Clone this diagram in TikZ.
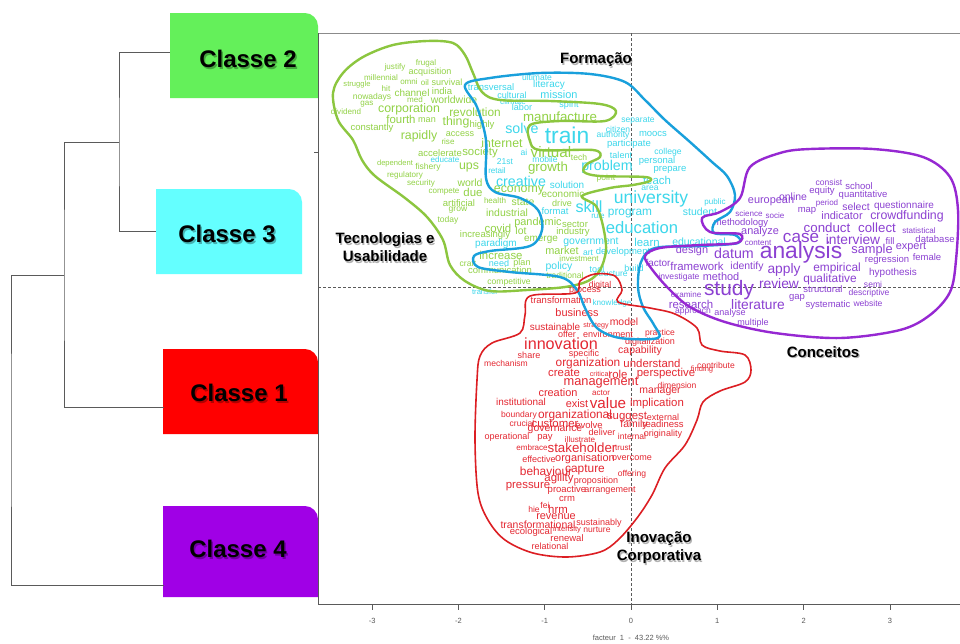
\documentclass[tikz,border=0pt]{standalone}
\usepackage{fontspec}
\setmainfont{Liberation Sans}
\pgfdeclarelayer{bg}
\pgfsetlayers{bg,main}
% word colours
\definecolor{wgreen}{RGB}{146,210,70}
\definecolor{wcyan}{RGB}{60,215,235}
\definecolor{wred}{RGB}{228,40,50}
\definecolor{wpurple}{RGB}{140,65,210}
% contour colours
\definecolor{cgreen}{RGB}{140,198,63}
\definecolor{ccyan}{RGB}{25,160,220}
\definecolor{cpurple}{RGB}{150,40,210}
\definecolor{cred}{RGB}{220,30,35}
% class box colours
\definecolor{bgreen}{RGB}{100,240,90}
\definecolor{bcyan}{RGB}{100,255,255}
\definecolor{bred}{RGB}{255,0,0}
\definecolor{bpurple}{RGB}{160,0,230}
\definecolor{axisgray}{RGB}{90,90,90}
\begin{document}
\begin{tikzpicture}[x=1pt,y=-1pt,
  word/.style={inner sep=0pt,outer sep=0pt},
  clbox/.style={inner sep=0pt,outer sep=0pt,draw=none},
  cltext/.style={inner sep=0pt,font=\fontsize{24}{24}\selectfont\bfseries},
  clshadow/.style={cltext,text=black,opacity=0.3},
  tree/.style={draw=axisgray,line width=0.9pt},
  contour/.style={line width=2.4pt,line join=round},
  guide/.style={draw=axisgray,line width=0.8pt,dash pattern=on 3pt off 2pt},
  theme/.style={inner sep=0pt,align=center,font=\fontsize{15}{18}\selectfont\bfseries},
  themeshadow/.style={theme,text=black,opacity=0.3},
  ticklab/.style={inner sep=0pt,font=\fontsize{7.5}{8}\selectfont,text=axisgray}]
\useasboundingbox (0,0) rectangle (960,643);
\begin{pgfonlayer}{bg}
  \fill[white] (0,0) rectangle (960,643);
\end{pgfonlayer}

% ---- class boxes (rectangles with a rounded top-right corner) ----
\node[clbox,minimum width=148pt,minimum height=85pt] (b2) at (244,55.5) {};
\node[clbox,minimum width=146pt,minimum height=85pt] (b3) at (229,231.5) {};
\node[clbox,minimum width=155pt,minimum height=85pt] (b1) at (240.5,391.5) {};
\node[clbox,minimum width=155pt,minimum height=91pt] (b4) at (240.5,551.5) {};
\begin{pgfonlayer}{bg}
  \foreach \b/\c in {b2/bgreen,b3/bcyan,b1/bred,b4/bpurple}{
    \fill[\c] (\b.south west) -- (\b.north west) -- ([xshift=-13pt]\b.north east)
      .. controls ([xshift=-6pt]\b.north east) and ([yshift=-6pt]\b.north east)
      .. ([yshift=-13pt]\b.north east) -- (\b.south east) -- cycle;
  }
\end{pgfonlayer}
\node[clshadow] (s2) at (249.5,60.5) {Classe 2};
\node[cltext] (t2) at (248,59) {Classe 2};
\node[clshadow] (s3) at (228.5,235.5) {Classe 3};
\node[cltext] (t3) at (227,234) {Classe 3};
\node[clshadow] (s1) at (240.5,394.5) {Classe 1};
\node[cltext] (t1) at (239,393) {Classe 1};
\node[clshadow] (s4) at (239.5,550.5) {Classe 4};
\node[cltext] (t4) at (238,549) {Classe 4};

% ---- dendrogram ----
\coordinate (e2) at (170,52.5);
\coordinate (e3) at (156,231.5);
\coordinate (e1) at (164,407);
\coordinate (e4) at (164,585);
\coordinate (j23) at (119,142);
\coordinate (j123) at (64,275.5);
\coordinate (root) at (11,430);
\draw[tree] (e2) -| (j23) |- (e3);
\draw[tree] (j23) -| (j123) |- (e1);
\draw[tree] (j123) -| (root) |- (e4);
\draw[tree] (j23) -- (j123 |- j23);

% ---- plot frame and guides ----
\coordinate (ftl) at (318,33);
\coordinate (fbl) at (318,604);
\coordinate (ftr) at (960,33);
\coordinate (fbr) at (960,604);
\draw[draw=axisgray!70,line width=1pt] (ftr) -- (ftl);
\draw[draw=axisgray,line width=1pt] (ftl) -- (fbl) -- (fbr);
\draw[draw=axisgray,line width=0.8pt] (318,152) -- (314,152);
\coordinate (hl) at (318,287);
\coordinate (hr) at (960,287);
\coordinate (vt) at (631,33);
\coordinate (vb) at (631,604);
\draw[guide] (hl) -- (hr);
\draw[guide] (vt) -- (vb);
\foreach \k/\lab [count=\i] in {-3/-3,-2/-2,-1/-1,0/0,1/1,2/2,3/3}{
  \draw[draw=axisgray,line width=0.8pt] (631+86.3*\k,604) -- (631+86.3*\k,610);
  \node[ticklab] (tk\i) at (631+86.3*\k,621) {\lab};
}
\node[ticklab] (xtitle) at (631,638) {facteur \ 1 \ - \ 43.22 \%\%};

% ---- class 2 words ----
\foreach \x/\y/\s/\t [count=\i, evaluate=\s as \fs using 0.95*\s] in {
395/67/8.5/justify, 426/63/8.5/frugal, 430/72/9.5/acquisition, 381/78/8.5/millennial,
409/82/8.5/omni, 425/83/8.5/oil, 447/82/9.5/survival, 357/85/8/struggle, 386/89/8.5/hit,
412/93/10.5/channel, 442/91/10/india, 372/97/9/nowadays, 415/100/8.5/med,
454/100/11/worldwide, 367/104/8.5/gas, 346/112/8.5/dividend, 409/109/13/corporation,
475/112/12.5/revolution, 401/119/12/fourth, 427/120/9.5/man, 456/122/13/thing,
482/125/10/highly, 372/128/10/constantly, 419/136/13/rapidly, 460/134/9.5/access,
448/142/8.5/rise, 502/143/13/internet, 440/153/10/accelerate, 480/153/12/society,
395/164/8/dependent, 428/167/9/fishery, 469/167/13/ups, 405/175/8.5/regulatory,
421/183/8.5/security, 470/183/11/world, 444/192/8.5/compete, 473/192/12/due,
459/203/10/artificial, 458/210/9/grow, 448/220/9/today, 560/117/14/manufacture,
551/152/16/virtual, 579/157/9/tech, 548/168/14/growth, 606/178/9/point,
519/190/13/economy, 563/194/10.5/economic, 495/201/8.5/health, 523/202/11/state,
562/203/9.5/drive, 507/213/11/industrial, 538/223/11.5/pandemic, 575/224/10/sector,
498/228/12/covid, 521/231/11/lot, 573/232/10/industry, 485/235/10/increasingly,
541/240/10.5/emerge, 501/255/12/increase, 562/251/11.5/market, 579/259/8.5/investment,
468/263/9/craft, 522/263/9.5/plan, 500/270/10/communication, 565/275/9/traditional,
509/282/9/competitive}
  \node[word,text=wgreen,font=\fontsize{\fs}{\fs}\selectfont] (g\i) at (\x,\y) {\t};

% ---- class 3 words ----
\foreach \x/\y/\s/\t [count=\i, evaluate=\s as \fs using 0.95*\s] in {
537/77/9/ultimate, 491/87/10/transversal, 549/85/10.5/literacy, 512/95/9.5/cultural,
559/95/11.5/mission, 513/102/8.5/climate, 522/107/9.5/labor, 569/105/9.5/spirit,
522/128/15/solve, 567/135/24/train, 638/121/9/separate, 618/129/9/citizen,
613/135/9/authority, 653/134/10/moocs, 629/144/10/participate, 621/155/9.5/talent,
668/152/9/college, 657/161/10/personal, 670/170/10/prepare, 657/180/12/teach,
445/160/8.5/educate, 524/152/9/ai, 545/159/9/mobile, 505/162/9/21st, 497/171/8.5/retail,
607/167/15/problem, 521/181/15/creative, 567/185/10.5/solution, 650/188/9/area,
651/199/18.5/university, 589/207/17/skill, 630/214/12.5/program, 598/216/8.5/rule,
642/228/17.5/education, 700/212/11/student, 715/202/8.5/public, 555/211/10/format,
496/244/10.5/paradigm, 591/242/11/government, 647/242/12/learn, 699/242/11/educational,
588/253/9/art, 623/252/10/development, 499/263/9.5/need, 559/267/11/policy,
597/269/9.5/tool, 634/268/9.5/build, 611/274/9/structure, 485/292/8/transfer,
612/303/8.5/knowledge}
  \node[word,text=wcyan,font=\fontsize{\fs}{\fs}\selectfont] (c\i) at (\x,\y) {\t};

% ---- class 1 words ----
\foreach \x/\y/\s/\t [count=\i, evaluate=\s as \fs using 0.95*\s] in {
600/285/9/digital, 585/291/9.5/process, 561/300/10/transformation, 577/313/11.5/business,
624/322/11/model, 555/327/10.5/sustainable, 596/326/7.5/strategy, 567/334/9.5/offer,
608/334/9.5/environment, 561/344/17/innovation, 660/333/9/practice,
650/342/9.5/digitalization, 529/355/9.5/share, 584/354/9.5/specific, 640/351/11/capability,
506/363/9/mechanism, 588/363/12.5/organization, 652/363/12/understand,
716/365/9/contribute, 702/370/8/finding, 564/373/12/create, 600/374/7.5/critical,
618/374/12/role, 666/374/12/perspective, 601/383/13.5/management, 677/385/9/dimension,
660/392/11/manager, 558/393/11.5/creation, 601/393/8.5/actor, 521/402/10.5/institutional,
577/404/11.5/exist, 608/403/16/value, 657/404/12/implication, 519/415/9/boundary,
575/415/12.5/organizational, 627/417/12/suggest, 663/417/9.5/external, 522/423/9/crucial,
555/424/12/customer, 589/425/10/evolve, 634/425/11/family, 663/424/10/readiness,
555/430/11/governance, 602/432/9.5/deliver, 507/437/9.5/operational, 545/438/10/pay,
580/440/8.5/illustrate, 632/436/9/internal, 663/434/9.5/originality, 532/448/8.5/embrace,
582/448/14/stakeholder, 623/448/8.5/trust, 539/459/9.5/effective, 585/459/11.5/organisation,
632/458/9.5/overcome, 546/471/12.5/behaviour, 585/470/12.5/capture, 632/474/9/offering,
559/479/12/agility, 596/481/9.5/proposition, 528/487/12/pressure, 567/490/10/proactive,
610/491/9.5/arrangement, 567/499/10/crm, 545/505/9/fei, 534/509/9/hie, 558/509/12/hrm,
556/517/11.5/revenue, 538/525/11/transformational, 599/523/9.5/sustainably,
531/532/10/ecological, 567/530/8/intensity, 597/530/9/nurture, 567/538/10/renewal,
550/546/9.5/relational}
  \node[word,text=wred,font=\fontsize{\fs}{\fs}\selectfont] (r\i) at (\x,\y) {\t};

% ---- class 4 words ----
\foreach \x/\y/\s/\t [count=\i, evaluate=\s as \fs using 0.95*\s] in {
829/182/9/consist, 859/186/10/school, 822/191/10/equity, 863/195/10/quantitative,
793/197/11/online, 771/202/11.5/european, 827/203/8.5/period, 856/207/11/select,
904/206/10.5/questionnaire, 807/211/10/map, 749/214/8.5/science, 775/216/8.5/socie,
842/216/11.5/indicator, 907/216/13/crowdfunding, 741/223/10/methodology,
827/228/14/conduct, 877/228/14/collect, 760/232/11.5/analyze, 919/231/8.5/statistical,
801/238/18/case, 853/240/14.5/interview, 890/241/10/fill, 935/239/10/database,
758/243/8.5/content, 911/247/11.5/expert, 872/250/13.5/sample, 692/251/11.5/design,
734/253/15/datum, 801/253/24/analysis, 927/257/10/female, 887/260/10/regression,
658/263/10.5/factor, 697/266/12/framework, 747/267/11/identify, 784/270/14.5/apply,
837/268/12.5/empirical, 893/273/10.5/hypothesis, 679/277/9/investigate,
721/277/11.5/method, 830/279/12.5/qualitative, 779/284/14.5/review, 873/284/9/semi,
729/290/22/study, 823/289/10/structural, 869/293/9/descriptive, 686/295/8.5/examine,
797/298/10/gap, 691/304/12/research, 758/305/14.5/literature, 828/305/10/systematic,
868/303/9/website, 693/311/9/approach, 730/313/9.5/analyse, 753/323/9.5/multiple}
  \node[word,text=wpurple,font=\fontsize{\fs}{\fs}\selectfont] (p\i) at (\x,\y) {\t};

% ---- class contours ----
\draw[contour,cgreen] plot[smooth cycle,tension=0.55] coordinates {
(353,140) (338,120) (333,93) (343,73) (363,57) (393,45) (427,41) (453,43) (465,55)
(473,73) (482,92) (500,100) (550,101) (600,104) (616,111) (605,121) (560,121)
(530,125) (530,141) (540,150) (593,150) (600,157) (587,164) (584,172) (600,176)
(645,177) (650,181) (633,185) (610,188) (582,196) (596,206) (603,226) (606,250)
(600,270) (588,281) (565,287) (527,290) (490,291) (465,281) (450,265) (443,240)
(427,217) (405,198) (375,176) (362,160)};
\draw[contour,ccyan] plot[smooth cycle,tension=0.55] coordinates {
(465,85) (490,78) (540,73) (590,74) (625,82) (645,100) (665,120) (690,142) (712,162)
(727,176) (735,195) (730,212) (715,222) (714,233) (735,235) (738,243) (700,246)
(655,248) (641,262) (638,287) (643,307) (654,325) (658,338) (620,338) (597,328)
(585,308) (577,290) (560,277) (510,272) (478,267) (474,256) (490,251) (530,246)
(542,230) (538,210) (520,198) (495,192) (486,178) (486,140) (477,107)};
\draw[contour,cpurple] plot[smooth cycle,tension=0.55] coordinates {
(750,167) (780,153) (810,149) (873,149) (923,157) (950,177) (958,210) (956,260)
(950,292) (930,315) (900,330) (840,338) (775,333) (725,322) (690,307) (668,288)
(651,268) (645,256) (660,248) (700,245) (737,243) (740,234) (710,232) (702,218)
(720,212) (740,198)};
\draw[contour,cred,line width=1.6pt] plot[smooth cycle,tension=0.55] coordinates {
(530,296) (575,293) (580,281) (595,274) (615,276) (622,290) (618,302) (650,308)
(675,314) (697,328) (702,345) (720,351) (745,355) (751,370) (745,382) (720,391)
(703,402) (697,420) (685,445) (665,468) (652,495) (637,518) (618,540) (600,552)
(567,557) (533,553) (505,540) (488,520) (478,493) (475,440) (477,380) (480,356)
(492,343) (520,333) (525,315)};

% ---- theme labels ----
\node[themeshadow] (fsh) at (597.2,61.2) {Formação};
\node[theme] (form) at (596,60) {Formação};
\node[themeshadow] (tsh) at (386.2,248.7) {Tecnologias e\\Usabilidade};
\node[theme] (tec) at (385,247.5) {Tecnologias e\\Usabilidade};
\node[themeshadow] (csh) at (824.2,353.2) {Conceitos};
\node[theme] (conc) at (823,352) {Conceitos};
\node[themeshadow] (ish) at (660.2,549.2) {Inovação\\Corporativa};
\node[theme] (inov) at (659,548) {Inovação\\Corporativa};
\end{tikzpicture}
\end{document}
